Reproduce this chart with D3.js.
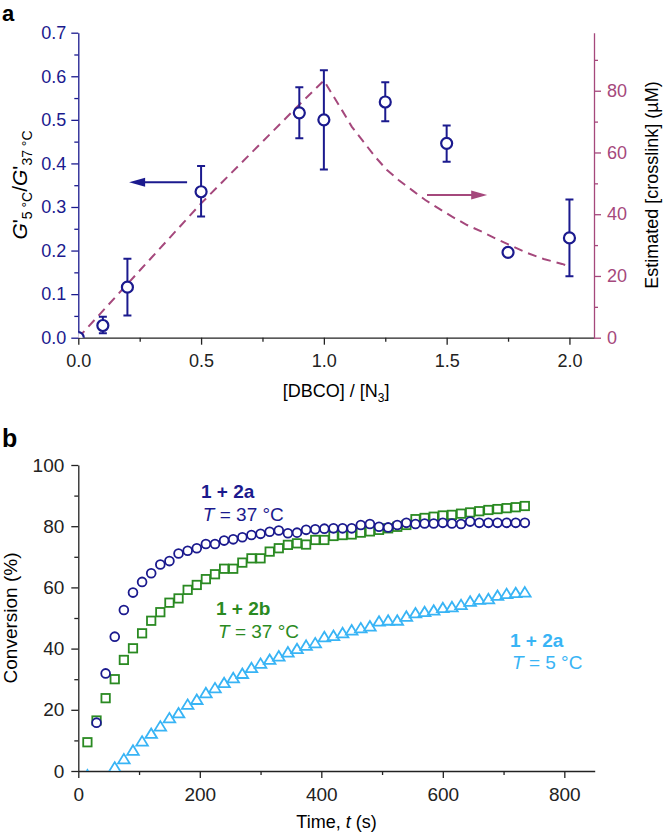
<!DOCTYPE html>
<html>
<head>
<meta charset="utf-8">
<script src="https://cdn.jsdelivr.net/npm/d3@7"></script>
<style>
  body { margin: 0; background: #fff; }
  svg { display: block; font-family: "Liberation Sans", Arial, Helvetica, sans-serif; }
</style>
</head>
<body>
<svg id="chart" width="663" height="834"></svg>
<script>
// ---------- Panel a data ----------
const ratioX   = [0, 0.1, 0.2, 0.5, 0.9, 1.0, 1.25, 1.5, 1.75, 2.0];
const ratioG   = [0, 0.028, 0.116, 0.335, 0.516, 0.500, 0.541, 0.446, 0.196, 0.229];
const ratioLow = [null, 0.010, 0.051, 0.278, 0.458, 0.386, 0.497, 0.404, 0.191, 0.141];
const ratioHigh= [null, 0.048, 0.181, 0.394, 0.575, 0.614, 0.586, 0.487, 0.201, 0.317];

// estimated crosslink curve (right axis, µM)
const xlinkX = [0, 0.2, 0.5, 0.9, 1.0, 1.073, 1.114, 1.161, 1.209, 1.257, 1.304, 1.359, 1.413, 1.467, 1.522, 1.583, 1.644, 1.705, 1.766, 1.827, 1.895, 1.97, 2.0];
const xlinkY = [0, 17.4, 43.5, 75.5, 83.3, 73.8, 68.3, 63.5, 58.6, 54.3, 51.1, 47.8, 44.6, 41.9, 39.2, 36.5, 34.3, 31.9, 29.7, 27.5, 25.5, 23.9, 23.1];

const aXTicks = [0, 0.5, 1.0, 1.5, 2.0];
const aXMinor = [0.25, 0.75, 1.25, 1.75];
const aYLTicks = [0, 0.1, 0.2, 0.3, 0.4, 0.5, 0.6, 0.7];
const aYLMinor = [0.05, 0.15, 0.25, 0.35, 0.45, 0.55, 0.65];
const aYRTicks = [0, 20, 40, 60, 80];
const aYRMinor = [10, 30, 50, 70, 90];

// ---------- Panel b data ----------
const timeA37 = [30,45,60,75,90,105,120,135,150,165,180,195,210,225,240,255,270,285,300,315,330,345,360,375,390,405,420,435,450,465,480,495,510,525,540,555,570,585,600,615,630,645,660,675,690,705,720,735];
const convA37 = [15.8,31.9,43.9,52.6,58.3,61.8,64.6,67.5,68.6,71.1,72.0,72.8,74.2,74.2,75.3,75.7,76.4,77.1,77.5,78.2,78.6,77.7,77.9,78.8,79.0,79.2,79.3,79.3,79.3,80.4,80.7,79.8,79.6,80.4,81.1,80.7,80.9,80.9,81.1,80.9,80.7,81.5,81.1,81.1,81.1,81.1,81.1,81.1];

const timeB37 = [15,30,45,60,75,90,105,120,135,150,165,180,195,210,225,240,255,270,285,300,315,330,345,360,375,390,405,420,435,450,465,480,495,510,525,540,555,570,585,600,615,630,645,660,675,690,705,720,735];
const convB37 = [9.4,16.5,23.8,30.0,36.3,40.1,45.0,49.1,51.9,55.0,56.4,59.2,60.8,62.7,64.3,66.1,66.1,68.1,69.5,69.5,71.7,72.8,73.9,74.4,74.0,75.5,75.5,76.8,77.1,77.3,77.9,78.3,78.8,79.3,79.8,80.4,82.3,82.7,83.1,83.5,83.7,84.1,84.5,84.9,85.3,85.6,85.9,86.2,86.6];

const timeA5 = [15,60,75,90,105,120,135,150,165,180,195,210,225,240,255,270,285,300,315,330,345,360,375,390,405,420,435,450,465,480,495,510,525,540,555,570,585,600,615,630,645,660,675,690,705,720,735];
const convA5 = [-1.5,1.1,3.8,6.6,9.6,12.1,14.5,17.2,18.8,21.6,23.2,25.4,27.0,28.7,30.3,31.7,33.6,35.0,36.3,37.4,38.7,39.8,40.9,41.7,43.7,44.1,45.0,45.9,46.6,47.2,48.8,49.1,49.1,50.4,51.5,51.9,52.4,53.2,53.5,54.2,55.3,55.9,56.1,57.2,57.8,58.1,58.3];

const bXTicks = [0, 200, 400, 600, 800];
const bXMinor = [100, 300, 500, 700];
const bYTicks = [0, 20, 40, 60, 80, 100];
const bYMinor = [10, 30, 50, 70, 90];

// ---------- styles ----------
const NAVY = "#1b1a8e";
const PURPLE = "#a5487c";
const GREEN = "#2a8a22";
const LBLUE = "#38b4f5";
const BLACK = "#222";
const TICKFONT = 18;

const svg = d3.select("#chart");
svg.append("rect").attr("width", 663).attr("height", 834).attr("fill", "#fff");

function styleAxis(g, color, fontSize) {
  g.select(".domain").attr("stroke", color).attr("stroke-width", 1.3);
  g.selectAll(".tick line").attr("stroke", color).attr("stroke-width", 1.3);
  g.selectAll(".tick text").attr("fill", color).style("font-size", fontSize + "px")
    .style("font-family", '"Liberation Sans", Arial, Helvetica, sans-serif');
}
function minor(g, axis, color) {
  g.call(axis);
  g.select(".domain").remove();
  g.selectAll(".tick line").attr("stroke", color).attr("stroke-width", 1.3);
  g.selectAll(".tick text").remove();
}

// =============== PANEL A ===============
const aX  = d3.scaleLinear().domain([0, 2.1]).range([78.3, 594]);
const aYL = d3.scaleLinear().domain([0, 0.7]).range([337.7, 32.7]);
const aYR = d3.scaleLinear().domain([0, 98.8]).range([337.7, 32.7]);

svg.append("text").attr("x", 2).attr("y", 21).text("a")
  .style("font-weight", "bold").style("font-size", "22px").attr("fill", "#000");

svg.append("defs").append("clipPath").attr("id", "clipA").append("rect")
  .attr("x", aX.range()[0]).attr("y", aYL.range()[1])
  .attr("width", aX.range()[1] - aX.range()[0]).attr("height", aYL.range()[0] - aYL.range()[1]);

// axes
const gAxB = svg.append("g").attr("transform", `translate(0,${aYL.range()[0]})`)
  .call(d3.axisBottom(aX).tickValues(aXTicks).tickFormat(d3.format(".1f")).tickSize(7).tickSizeOuter(0).tickPadding(10));
styleAxis(gAxB, BLACK, TICKFONT);
minor(svg.append("g").attr("transform", `translate(0,${aYL.range()[0]})`),
  d3.axisBottom(aX).tickValues(aXMinor).tickSize(4).tickFormat(""), BLACK);

const gAxL = svg.append("g").attr("transform", `translate(${aX.range()[0]},0)`)
  .call(d3.axisLeft(aYL).tickValues(aYLTicks).tickFormat(d3.format(".1f")).tickSize(7).tickSizeOuter(0).tickPadding(5));
styleAxis(gAxL, NAVY, TICKFONT);
minor(svg.append("g").attr("transform", `translate(${aX.range()[0]},0)`),
  d3.axisLeft(aYL).tickValues(aYLMinor).tickSize(4).tickFormat(""), NAVY);

const gAxR = svg.append("g").attr("transform", `translate(${aX.range()[1]},0)`)
  .call(d3.axisRight(aYR).tickValues(aYRTicks).tickSize(7).tickSizeOuter(0).tickPadding(6));
styleAxis(gAxR, PURPLE, TICKFONT);
minor(svg.append("g").attr("transform", `translate(${aX.range()[1]},0)`),
  d3.axisRight(aYR).tickValues(aYRMinor).tickSize(4).tickFormat(""), PURPLE);

// axis labels
const yLab = svg.append("text").attr("transform", `translate(27,185) rotate(-90)`)
  .attr("text-anchor", "middle").attr("fill", "#000").style("font-size", "21px");
yLab.append("tspan").style("font-style", "italic").text("G");
yLab.append("tspan").text("'");
yLab.append("tspan").attr("dy", 5).style("font-size", "14px").text("5 °C");
yLab.append("tspan").attr("dy", -5).text("/");
yLab.append("tspan").style("font-style", "italic").text("G");
yLab.append("tspan").text("'");
yLab.append("tspan").attr("dy", 5).style("font-size", "14px").text("37 °C");

const xLab = svg.append("text").attr("x", (aX.range()[0] + aX.range()[1]) / 2).attr("y", 397)
  .attr("text-anchor", "middle").attr("fill", "#000").style("font-size", "18px");
xLab.append("tspan").text("[DBCO] / [N");
xLab.append("tspan").attr("dy", 5).style("font-size", "12px").text("3");
xLab.append("tspan").attr("dy", -5).text("]");

svg.append("text").attr("transform", `translate(658,185) rotate(-90)`)
  .attr("text-anchor", "middle").attr("fill", "#000").style("font-size", "18px")
  .text("Estimated [crosslink] (µM)");

// dashed crosslink curve
const plotA = svg.append("g").attr("clip-path", "url(#clipA)");
plotA.append("path")
  .datum(xlinkX.map((x, i) => [x, xlinkY[i]]))
  .attr("d", d3.line().x(d => aX(d[0])).y(d => aYR(d[1])))
  .attr("fill", "none").attr("stroke", PURPLE).attr("stroke-width", 2)
  .attr("stroke-dasharray", "9,6");

// error bars
const ptsA = ratioX.map((x, i) => ({x, y: ratioG[i], lo: ratioLow[i], hi: ratioHigh[i]}));
const eb = plotA.append("g").attr("stroke", NAVY).attr("stroke-width", 2);
ptsA.filter(d => d.lo !== null).forEach(d => {
  eb.append("line").attr("x1", aX(d.x)).attr("x2", aX(d.x)).attr("y1", aYL(d.lo)).attr("y2", aYL(d.hi));
  eb.append("line").attr("x1", aX(d.x) - 4).attr("x2", aX(d.x) + 4).attr("y1", aYL(d.lo)).attr("y2", aYL(d.lo));
  eb.append("line").attr("x1", aX(d.x) - 4).attr("x2", aX(d.x) + 4).attr("y1", aYL(d.hi)).attr("y2", aYL(d.hi));
});
plotA.append("g").selectAll("circle").data(ptsA).join("circle")
  .attr("cx", d => aX(d.x)).attr("cy", d => aYL(d.y)).attr("r", 5.5)
  .attr("fill", "#fff").attr("stroke", NAVY).attr("stroke-width", 2.2);

// arrows
function arrow(x1, x2, y, color) {
  const dir = Math.sign(x2 - x1);
  const headLen = 16, half = 4.5;
  svg.append("line").attr("x1", x1).attr("x2", x2 - dir * headLen + dir * 2).attr("y1", y).attr("y2", y)
    .attr("stroke", color).attr("stroke-width", 2);
  svg.append("path").attr("d", `M${x2},${y} L${x2 - dir * headLen},${y - half} L${x2 - dir * headLen},${y + half} Z`)
    .attr("fill", color);
}
arrow(aX(0.443), aX(0.207), aYL(0.357), NAVY);
arrow(aX(1.42), aX(1.665), aYR(46.2), PURPLE);

// =============== PANEL B ===============
const bX = d3.scaleLinear().domain([0, 850]).range([78.3, 594.7]);
const bY = d3.scaleLinear().domain([0, 100]).range([771, 465]);

svg.append("text").attr("x", 2).attr("y", 447).text("b")
  .style("font-weight", "bold").style("font-size", "25px").attr("fill", "#000");

svg.select("defs").append("clipPath").attr("id", "clipB").append("rect")
  .attr("x", bX.range()[0]).attr("y", bY.range()[1] - 10)
  .attr("width", bX.range()[1] - bX.range()[0]).attr("height", bY.range()[0] - bY.range()[1] + 10);

const gBxB = svg.append("g").attr("transform", `translate(0,${bY.range()[0]})`)
  .call(d3.axisBottom(bX).tickValues(bXTicks).tickSize(7).tickSizeOuter(0).tickPadding(10));
styleAxis(gBxB, BLACK, TICKFONT + 1);
minor(svg.append("g").attr("transform", `translate(0,${bY.range()[0]})`),
  d3.axisBottom(bX).tickValues(bXMinor).tickSize(4).tickFormat(""), BLACK);

const gBxL = svg.append("g").attr("transform", `translate(${bX.range()[0]},0)`)
  .call(d3.axisLeft(bY).tickValues(bYTicks).tickSize(7).tickSizeOuter(0).tickPadding(7));
styleAxis(gBxL, BLACK, TICKFONT + 1);
minor(svg.append("g").attr("transform", `translate(${bX.range()[0]},0)`),
  d3.axisLeft(bY).tickValues(bYMinor).tickSize(4).tickFormat(""), BLACK);

svg.append("text").attr("transform", `translate(17,618) rotate(-90)`)
  .attr("text-anchor", "middle").attr("fill", "#000").style("font-size", "19px")
  .text("Conversion (%)");

const tLab = svg.append("text").attr("x", (bX.range()[0] + bX.range()[1]) / 2).attr("y", 828)
  .attr("text-anchor", "middle").attr("fill", "#000").style("font-size", "18px");
tLab.append("tspan").text("Time, ");
tLab.append("tspan").style("font-style", "italic").text("t");
tLab.append("tspan").text(" (s)");

const plotB = svg.append("g").attr("clip-path", "url(#clipB)");

// triangles (1 + 2a, 5 °C)
plotB.append("g").selectAll("path").data(timeA5.map((t, i) => [t, convA5[i]])).join("path")
  .attr("d", d => {
    const x = bX(d[0]), y = bY(d[1]);
    return `M${x},${y - 5.5} L${x + 5.8},${y + 4} L${x - 5.8},${y + 4} Z`;
  })
  .attr("fill", "#fff").attr("stroke", LBLUE).attr("stroke-width", 1.8).attr("stroke-linejoin", "miter");

// squares (1 + 2b, 37 °C)
plotB.append("g").selectAll("rect").data(timeB37.map((t, i) => [t, convB37[i]])).join("rect")
  .attr("x", d => bX(d[0]) - 4.2).attr("y", d => bY(d[1]) - 4.2)
  .attr("width", 8.4).attr("height", 8.4)
  .attr("fill", "#fff").attr("stroke", GREEN).attr("stroke-width", 1.8);

// circles (1 + 2a, 37 °C)
plotB.append("g").selectAll("circle").data(timeA37.map((t, i) => [t, convA37[i]])).join("circle")
  .attr("cx", d => bX(d[0])).attr("cy", d => bY(d[1])).attr("r", 4.4)
  .attr("fill", "#fff").attr("stroke", NAVY).attr("stroke-width", 1.8);

// annotations
function annot(t, c, lines, color) {
  const [bold, temp] = lines;
  svg.append("text").attr("x", bX(t[0])).attr("y", bY(c[0])).attr("fill", color)
    .style("font-size", "19px").style("font-weight", "bold").text(bold);
  const tt = svg.append("text").attr("x", bX(t[1])).attr("y", bY(c[1])).attr("fill", color)
    .style("font-size", "19px");
  tt.append("tspan").style("font-style", "italic").text("T");
  tt.append("tspan").text(" = " + temp);
}
annot([202, 205], [89.2, 81.7], ["1 + 2a", "37 °C"], NAVY);
annot([226.6, 230], [51.0, 43.5], ["1 + 2b", "37 °C"], GREEN);
annot([710.6, 713.9], [40.5, 33.3], ["1 + 2a", "5 °C"], LBLUE);
</script>
</body>
</html>
